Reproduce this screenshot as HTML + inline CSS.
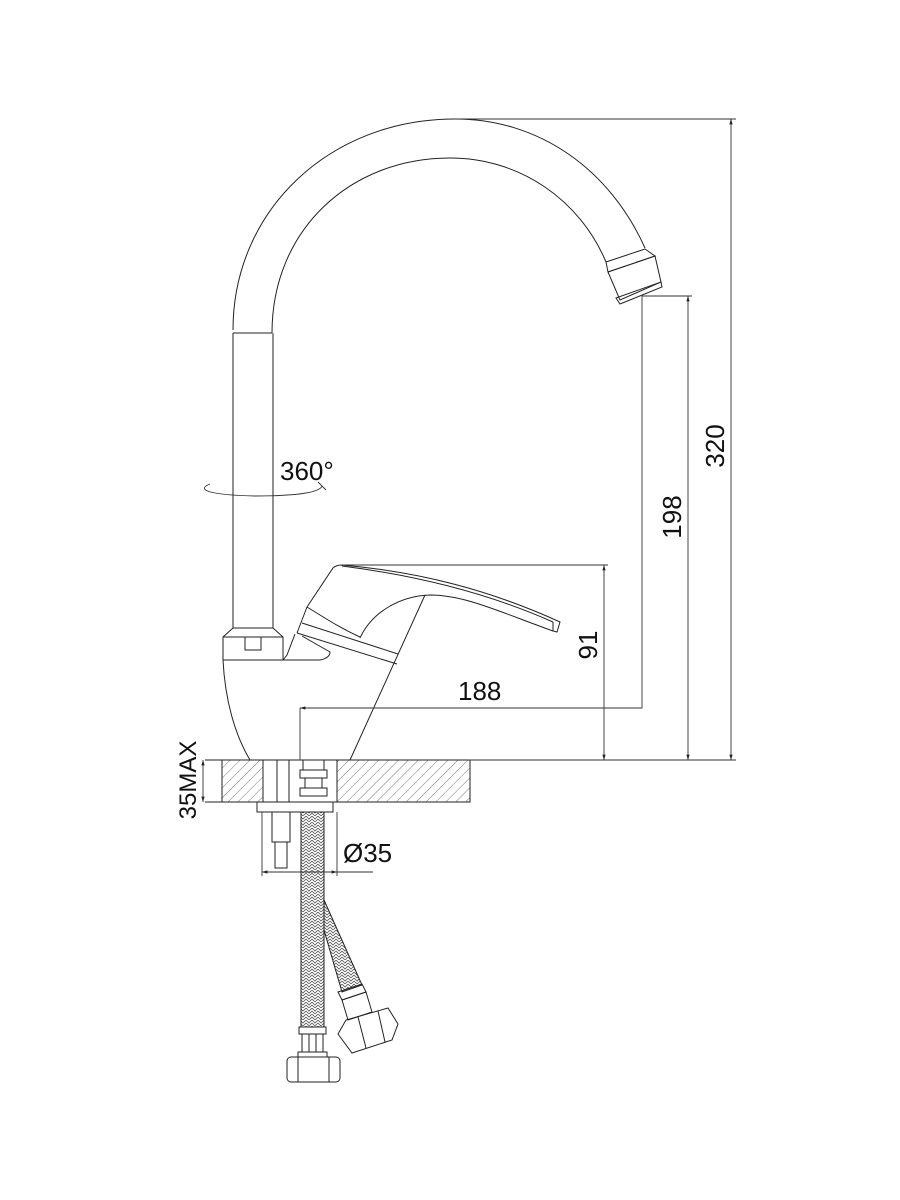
<!DOCTYPE html>
<html><head><meta charset="utf-8"><style>
html,body{margin:0;padding:0;background:#fff}
svg{display:block}
text{font-family:"Liberation Sans",sans-serif;fill:#111}
</style></head><body>
<svg width="900" height="1200" viewBox="0 0 900 1200" xmlns="http://www.w3.org/2000/svg">
<defs>
<pattern id="h" width="7" height="7" patternUnits="userSpaceOnUse" patternTransform="rotate(45)">
<line x1="0" y1="0" x2="0" y2="7" stroke="#555" stroke-width="0.8"/>
</pattern>
<pattern id="b" width="6" height="6" patternUnits="userSpaceOnUse">
<path d="M0 0 L3 3 L6 0 M0 3 L3 6 L6 3" stroke="#555" stroke-width="0.8" fill="none"/>
</pattern>
<marker id="a" viewBox="0 0 10 10" refX="10" refY="5" markerWidth="6" markerHeight="6" orient="auto-start-reverse"><path d="M0 2 L10 5 L0 8z" fill="#222"/></marker>
</defs>
<g fill="none" stroke="#222" stroke-width="1">
<!-- spout -->
<path d="M233 330 C233 210 330 119 455 119 C540 119 610 170 645 248"/>
<path d="M272 333 C272 230 350 158 450 158 C520 158 580 200 606 262"/>
<path d="M606 262 L645 249 L655 256 L608 272 Z"/>
<path d="M608 272 L655 256 L661 282 L620 300 Z"/>
<path d="M616 298 L661 282 L662 287 L620 304 Z"/>
<line x1="233" y1="333" x2="272" y2="333"/>
<line x1="233" y1="333" x2="233" y2="628"/>
<line x1="273" y1="333" x2="273" y2="628"/>
<!-- collar -->
<path d="M233 628 L273 628 L283 637 L283 660 L223 660 L223 637 Z"/>
<line x1="223" y1="637" x2="283" y2="637"/>
<rect x="245" y="637" width="16" height="13"/>
<path d="M283 660 L287 655 L295 634 M283 660 L320 660 Q330 658 330 652 L302 636"/>
<!-- body -->
<path d="M223 660 C225 700 235 735 250 760"/>
<path d="M350 760 L425 595"/>
<!-- handle -->
<path d="M307 607 L333 568 Q336 565 342 565 C420 572 490 590 560 622 L557 632 L553 631 L553 622"/>
<path d="M342 566 C420 576 490 594 553 622"/>
<path d="M553 631 C500 612 465 595 430 595 C400 596 372 612 360 638"/>
<path d="M307 607 C325 618 340 628 360 637"/>
<path d="M307 607 L297 633"/>
<path d="M302 623 L398 654"/>
<path d="M297 633 L397 664"/>
<!-- counter -->
<rect x="222" y="760" width="41" height="42" fill="url(#h)"/>
<rect x="337" y="760" width="133" height="42" fill="url(#h)"/>
<line x1="205" y1="760" x2="470" y2="760"/>
<line x1="205" y1="802" x2="470" y2="802"/>
<line x1="222" y1="760" x2="222" y2="802"/>
<line x1="470" y1="760" x2="470" y2="802"/>
<line x1="263" y1="760" x2="263" y2="802"/>
<line x1="337" y1="760" x2="337" y2="802"/>
<line x1="277" y1="760" x2="277" y2="802"/>
<line x1="289" y1="760" x2="289" y2="802"/>
<rect x="300" y="770" width="27" height="8"/>
<rect x="300" y="788" width="27" height="8"/>
<rect x="305" y="778" width="17" height="10"/>
<line x1="303" y1="760" x2="303" y2="770"/>
<line x1="324" y1="760" x2="324" y2="770"/>
<!-- nut plate, stud -->
<rect x="257" y="802" width="76" height="10"/>
<rect x="272" y="812" width="18" height="30"/>
<rect x="275" y="842" width="12" height="26"/>
<!-- hoses -->
<rect x="301" y="812" width="23" height="215" fill="url(#b)"/>
<path d="M324 900 L324 930 L342 992 L362 985 Z" fill="url(#b)"/>
<path d="M338 992 L362 984 L366 992 L342 1000 Z"/>
<path d="M342 1000 L366 992 L372 1012 L348 1020 Z"/>
<path d="M338 1034 L346 1020 L388 1008 L398 1024 L392 1040 L352 1053 Z"/>
<line x1="358" y1="1017" x2="366" y2="1048"/>
<line x1="378" y1="1011" x2="385" y2="1042"/>
<rect x="299" y="1027" width="27" height="7"/>
<rect x="302" y="1034" width="21" height="18"/>
<line x1="309" y1="1034" x2="309" y2="1052"/>
<line x1="316" y1="1034" x2="316" y2="1052"/>
<rect x="298" y="1052" width="29" height="5"/>
<rect x="287" y="1057" width="53" height="25" rx="4"/>
<line x1="298" y1="1057" x2="298" y2="1082"/>
<line x1="329" y1="1057" x2="329" y2="1082"/>
</g>
<!-- dimensions -->
<g fill="none" stroke="#333" stroke-width="0.9">
<line x1="455" y1="119" x2="736" y2="119"/>
<line x1="731" y1="119" x2="731" y2="760" marker-start="url(#a)" marker-end="url(#a)"/>
<line x1="470" y1="760" x2="736" y2="760"/>
<line x1="642" y1="296" x2="692" y2="296"/>
<line x1="688" y1="296" x2="688" y2="760" marker-start="url(#a)" marker-end="url(#a)"/>
<line x1="342" y1="565" x2="608" y2="565"/>
<line x1="604" y1="565" x2="604" y2="760" marker-start="url(#a)" marker-end="url(#a)"/>
<polyline points="642,296 642,708 300,708"/>
<line x1="300" y1="708" x2="300" y2="760"/>
<line x1="312" y1="708" x2="300" y2="708" marker-end="url(#a)"/>
<line x1="203" y1="760" x2="203" y2="802" marker-start="url(#a)" marker-end="url(#a)"/>
<line x1="262" y1="812" x2="262" y2="876"/>
<line x1="337" y1="812" x2="337" y2="876"/>
<line x1="262" y1="872" x2="337" y2="872" marker-start="url(#a)" marker-end="url(#a)"/>
<line x1="337" y1="872" x2="373" y2="872"/>
<path d="M210 484 C195 490 210 495 255 496 C300 496 320 492 322 486" />
<path d="M322 486 L318 482 M322 486 L326 490"/>
</g>
<text x="280" y="480" font-size="26">360°</text>
<text x="458" y="700" font-size="26">188</text>
<text transform="translate(597,645) rotate(-90)" font-size="26" text-anchor="middle">91</text>
<text transform="translate(681,517) rotate(-90)" font-size="26" text-anchor="middle">198</text>
<text transform="translate(724,446) rotate(-90)" font-size="26" text-anchor="middle">320</text>
<text transform="translate(196,780) rotate(-90)" font-size="24" text-anchor="middle">35MAX</text>
<text x="343" y="862" font-size="26">Ø35</text>
</svg>
</body></html>
